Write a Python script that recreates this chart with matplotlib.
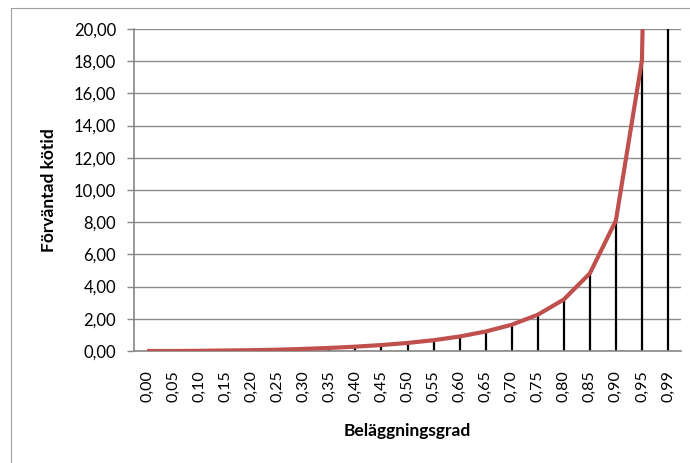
import matplotlib.pyplot as plt
from matplotlib.patches import Rectangle

# beläggningsgrad och förväntad kötid
grad = ["0,00", "0,05", "0,10", "0,15", "0,20", "0,25", "0,30", "0,35", "0,40", "0,45",
        "0,50", "0,55", "0,60", "0,65", "0,70", "0,75", "0,80", "0,85", "0,90", "0,95", "0,99"]
kotid = [0.00, 0.00, 0.01, 0.03, 0.05, 0.08, 0.13, 0.19, 0.27, 0.37,
         0.50, 0.67, 0.90, 1.21, 1.63, 2.25, 3.20, 4.82, 8.10, 18.05, 98.01]
yticks = [0, 2, 4, 6, 8, 10, 12, 14, 16, 18, 20]

plt.rcParams['font.family'] = ['Lato', 'DejaVu Sans']

fig = plt.figure(figsize=(6.9, 4.63), dpi=100)
# ram runt diagrammet
fig.patches.append(Rectangle((11 / 690, -0.1), 1.2, 1.1 - 8 / 463, transform=fig.transFigure,
                             fill=False, edgecolor='#a0a0a0', linewidth=0.8))

ax = fig.add_axes([134 / 690, 112 / 463, 547 / 690, 322 / 463])
x = list(range(len(grad)))

# lodlinjer från axeln upp till värdet
ax.vlines(x, 0, kotid, colors='black', linewidth=1.6, zorder=2)
ax.plot(x, kotid, color='#C0504D', linewidth=3, zorder=3, solid_capstyle='butt')

ax.set_xlim(-0.5, len(grad) - 0.5)
ax.set_ylim(0, 20)
ax.set_yticks(yticks)
ax.set_yticklabels([f"{v:.2f}".replace('.', ',') for v in yticks], fontsize=12)
ax.set_xticks(x)
ax.set_xticklabels(grad, rotation=90, fontsize=11.5)
ax.tick_params(axis='x', length=0, pad=14)
ax.tick_params(axis='y', length=5, width=1, color='#868686', pad=8)

ax.grid(axis='y', color='#8c8c8c', linewidth=1)
ax.set_axisbelow(True)
for s in ['top', 'right']:
    ax.spines[s].set_visible(False)
ax.spines['left'].set_color('#868686')
ax.spines['bottom'].set_color('#868686')
ax.spines['left'].set_linewidth(1.2)
ax.spines['bottom'].set_linewidth(1.2)

ax.set_xlabel('Beläggningsgrad', fontsize=12.5, fontweight='bold', labelpad=15)
ax.set_ylabel('Förväntad kötid', fontsize=12.5, fontweight='bold', labelpad=12)

fig.savefig('out.png', dpi=100)
